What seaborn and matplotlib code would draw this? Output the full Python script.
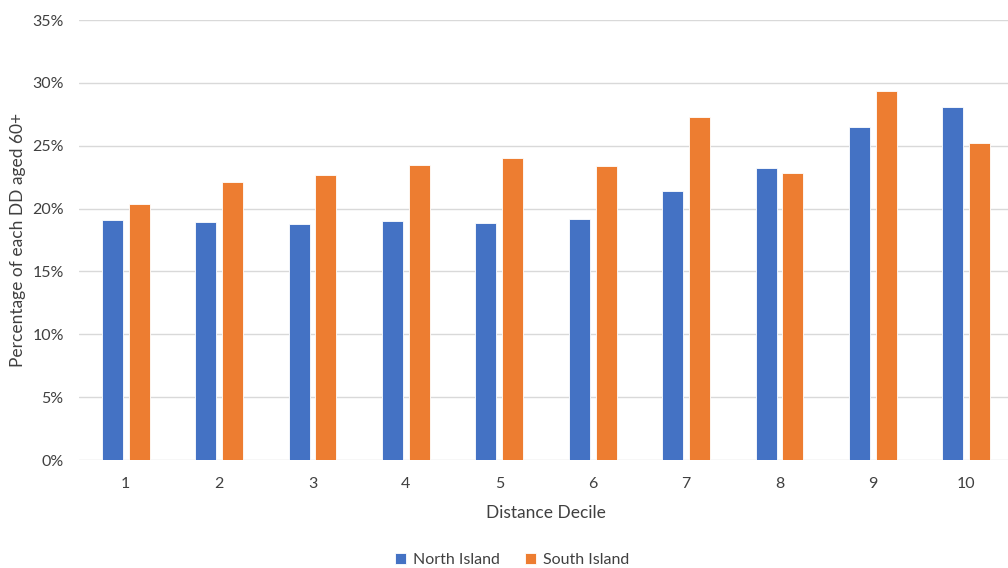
import matplotlib
matplotlib.use("Agg")
import matplotlib.pyplot as plt
import matplotlib.ticker as mticker
import seaborn as sns
import pandas as pd

deciles = ["1", "2", "3", "4", "5", "6", "7", "8", "9", "10"]
north_island = [19.1, 18.9, 18.75, 19.0, 18.85, 19.2, 21.4, 23.25, 26.45, 28.1]
south_island = [20.4, 22.1, 22.65, 23.5, 24.0, 23.4, 27.25, 22.8, 29.35, 25.2]
series_names = ["North Island", "South Island"]
palette = ["#4472C4", "#ED7D31"]

df = pd.DataFrame({
    "decile": deciles * 2,
    "island": [series_names[0]] * len(deciles) + [series_names[1]] * len(deciles),
    "share": [v / 100 for v in north_island + south_island],
})

sns.set_theme(style="white")
plt.rcParams["font.family"] = ["Lato", "DejaVu Sans"]

fig = plt.figure(figsize=(10.08, 5.68), dpi=100)
ax = fig.add_axes([79 / 1008, 108 / 568, 934 / 1008, 440 / 568])

sns.barplot(
    data=df, x="decile", y="share", hue="island", order=deciles,
    hue_order=series_names, palette=palette, width=0.576, gap=0.22,
    saturation=1, errorbar=None, ax=ax, legend=True,
    edgecolor="#ffffff", linewidth=0.6,
)

ax.set_ylim(0, 0.35)
ax.yaxis.set_major_locator(mticker.MultipleLocator(0.05))
ax.yaxis.set_major_formatter(mticker.PercentFormatter(1.0, decimals=0))
ax.grid(axis="y", color="#D9D9D9", linewidth=1)
ax.set_axisbelow(True)
for side in ["top", "right", "left", "bottom"]:
    ax.spines[side].set_visible(False)
ax.tick_params(axis="both", length=0, labelsize=11.5, colors="#404040")
ax.tick_params(axis="x", pad=12)
ax.tick_params(axis="y", pad=11)

ax.set_xlabel("Distance Decile", fontsize=12.5, color="#404040", labelpad=10)
ax.set_ylabel("Percentage of each DD aged 60+", fontsize=12.5, color="#404040")
ax.yaxis.set_label_coords(-53 / 934, 0.5)

handles, labels = ax.get_legend_handles_labels()
ax.legend_.remove()
fig.legend(
    handles, labels, loc="center", bbox_to_anchor=(512 / 1008, 1 - 560 / 568),
    ncol=2, frameon=False, fontsize=11.5, handlelength=0.7, handleheight=0.7,
    columnspacing=1.6, handletextpad=0.4, labelcolor="#404040",
)

fig.savefig("out.png", dpi=100)
